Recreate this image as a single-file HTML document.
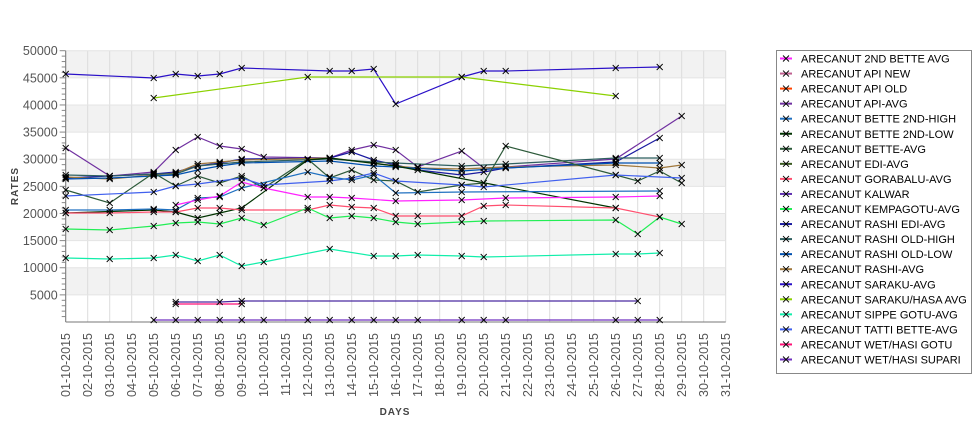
<!DOCTYPE html>
<html><head><meta charset="utf-8"><style>
body{margin:0;background:#fff;width:975px;height:429px;overflow:hidden}
svg{font-family:"Liberation Sans","DejaVu Sans",sans-serif}
</style></head><body>
<svg id="s" width="975" height="429" xmlns="http://www.w3.org/2000/svg"></svg>
<script>
const s=document.getElementById('s');
const X0=65.7,DX=22,Y0=322,K=271.3/50000;
let h='';
const yv=v=>Y0-v*K, xd=d=>X0+(d-1)*DX;
// bands
for(let b=5000;b<50000;b+=10000){h+=`<rect x="${X0}" y="${yv(b+5000)}" width="${725.7-X0}" height="${5000*K}" fill="#f2f2f2"/>`;}
// grid
for(let d=1;d<=31;d++){h+=`<line x1="${xd(d)}" y1="${yv(50000)}" x2="${xd(d)}" y2="${Y0}" stroke="#dcdcdc" stroke-width="1"/>`;}
for(let v=5000;v<=50000;v+=5000){h+=`<line x1="${X0}" y1="${yv(v)}" x2="725.7" y2="${yv(v)}" stroke="#e4e4e4"/>`;}
// axes
h+=`<line x1="${X0}" y1="${yv(50000)}" x2="${X0}" y2="${Y0}" stroke="#777"/><line x1="${X0}" y1="${Y0}" x2="725.7" y2="${Y0}" stroke="#777"/>`;
for(let v=1000;v<=50000;v+=1000){const big=v%5000==0;h+=`<line x1="${X0-(big?6:4)}" y1="${yv(v)}" x2="${X0}" y2="${yv(v)}" stroke="#888"/>`;
 if(big)h+=`<text x="${X0-8}" y="${yv(v)+4.5}" font-size="12.5" fill="#555" text-anchor="end">${v}</text>`;}
for(let d=1;d<=31;d++){const t=String(d).padStart(2,'0')+'-10-2015';const x=xd(d)+4.5;h+=`<text transform="translate(${x},333) rotate(-90)" font-size="12.5" fill="#555" text-anchor="end">${t}</text>`;}
h+=`<text transform="translate(18,186) rotate(-90)" font-size="10" font-weight="bold" fill="#444" text-anchor="middle" letter-spacing="1">RATES</text>`;
h+=`<text x="395" y="415" font-size="10" font-weight="bold" fill="#444" text-anchor="middle" letter-spacing="1">DAYS</text>`;
// series [color, [[day,ypix],...]]
const S=[
['#2a10c8',[[1,74],[5,78],[6,74],[7,76],[8,74],[9,68],[13,71],[14,71],[15,69],[16,104],[19,77],[20,71],[21,71],[26,68],[28,67]]],
['#8bd100',[[5,98],[12,77],[19,77],[26,96]]],
['#7030a0',[[1,148],[3,176],[5,172],[6,150],[7,137],[8,146],[9,149],[10,157],[13,158],[14,150],[15,145],[16,150],[17,167],[19,151],[20,168],[21,167],[26,159],[29,116]]],
['#1a1aa0',[[1,178],[3,176],[5,174],[6,172],[7,166],[8,163],[9,159],[13,158],[14,152],[15,160],[16,165],[17,170],[19,175],[20,172],[21,168],[26,162],[28,138]]],
['#a0783c',[[1,177],[3,179],[5,175],[6,173],[7,164],[8,162],[9,160],[13,158],[15,163],[16,166],[17,168],[19,169],[21,167],[26,165],[28,168],[29,165]]],
['#0050b0',[[1,179],[3,178],[5,176],[6,175],[7,170],[8,166],[9,163],[13,161],[15,166],[16,167],[19,171],[21,168],[26,163],[28,163]]],
['#2f6060',[[1,175],[3,176],[5,174],[6,174],[7,166],[8,164],[9,162],[13,159],[15,162],[16,163],[19,166],[21,164],[26,158],[28,158]]],
['#2d5a3a',[[1,190],[3,203],[5,173],[6,186],[7,176],[8,183],[9,176],[10,188],[12,159],[13,178],[14,170],[15,180],[16,181],[17,192],[19,185],[20,183],[21,146],[26,175],[27,181],[28,171],[29,183]]],
['#003300',[[1,213],[5,210],[6,212],[7,218],[8,213],[9,208],[12,160],[13,158],[16,166],[26,208]]],
['#4060ee',[[1,196],[5,192],[6,186],[7,184],[9,178],[10,185],[13,181],[14,178],[15,173],[16,181],[19,185],[20,187],[26,175],[29,178]]],
['#2070c0',[[1,210],[3,210],[5,209],[6,210],[7,198],[8,197],[9,188],[12,172],[13,177],[14,180],[15,175],[16,193],[19,192],[28,191]]],
['#ff22ff',[[6,205],[7,200],[8,196],[9,182],[10,188],[12,197],[13,197],[14,198],[16,201],[19,200],[21,198],[26,197],[28,196]]],
['#ff4f6f',[[1,213],[3,213],[5,212],[6,212],[7,208],[8,208],[9,210],[12,210],[13,205],[14,207],[15,208],[16,216],[17,216],[19,216],[20,206],[21,205],[26,208],[28,217]]],
['#22ee55',[[1,229],[3,230],[5,226],[6,223],[7,222],[8,224],[9,218],[10,225],[12,208],[13,218],[14,216],[15,218],[16,222],[17,224],[19,222],[20,221],[26,220],[27,234],[28,217],[29,224]]],
['#11eeaa',[[1,258],[3,259],[5,258],[6,255],[7,261],[8,255],[9,266],[10,262],[13,249],[15,256],[16,256],[17,255],[19,256],[20,257],[26,254],[27,254],[28,253]]],
['#ff1177',[[6,304],[9,304]]],
['#4a2aa0',[[6,302],[8,302],[9,301],[27,301]]],
['#7030c0',[[5,320],[6,320],[7,320],[8,320],[9,320],[10,320],[12,320],[13,320],[14,320],[15,320],[16,320],[17,320],[19,320],[20,320],[21,320],[26,320],[27,320],[28,320]]],
];
let mk='';
for(const [c,p] of S){h+=`<polyline fill="none" stroke="${c}" stroke-width="1.2" points="${p.map(q=>xd(q[0])+','+q[1]).join(' ')}"/>`;
 for(const q of p){const x=xd(q[0]),y=q[1];mk+=`<path d="M${x-3} ${y-3}L${x+3} ${y+3}M${x-3} ${y+3}L${x+3} ${y-3}" stroke="#000" stroke-width="0.9"/>`;}}
h+=mk;
// legend
h+=`<rect x="776.5" y="50.5" width="195" height="323" fill="#fff" stroke="#888"/>`;
const L=[['2ND BETTE AVG','#ff22ff'],['API NEW','#c06090'],['API OLD','#ff4400'],['API-AVG','#7030a0'],['BETTE 2ND-HIGH','#2070c0'],['BETTE 2ND-LOW','#003300'],['BETTE-AVG','#2d5a3a'],['EDI-AVG','#3a5a20'],['GORABALU-AVG','#ff4f6f'],['KALWAR','#6030b0'],['KEMPAGOTU-AVG','#22ee55'],['RASHI EDI-AVG','#1a1aa0'],['RASHI OLD-HIGH','#2f6060'],['RASHI OLD-LOW','#0050b0'],['RASHI-AVG','#a0783c'],['SARAKU-AVG','#2a10c8'],['SARAKU/HASA AVG','#8bd100'],['SIPPE GOTU-AVG','#11eeaa'],['TATTI BETTE-AVG','#4060ee'],['WET/HASI GOTU','#ff1177'],['WET/HASI SUPARI','#7030c0']];
L.forEach((l,i)=>{const y=58.5+i*15.05;h+=`<line x1="780" y1="${y}" x2="792" y2="${y}" stroke="${l[1]}" stroke-width="2"/><path d="M783 ${y-3}L789 ${y+3}M783 ${y+3}L789 ${y-3}" stroke="#000" stroke-width="0.9"/><text x="801" y="${y+4}" font-size="11" fill="#000">ARECANUT ${l[0]}</text>`;});
s.innerHTML=h;
</script>
</body></html>
